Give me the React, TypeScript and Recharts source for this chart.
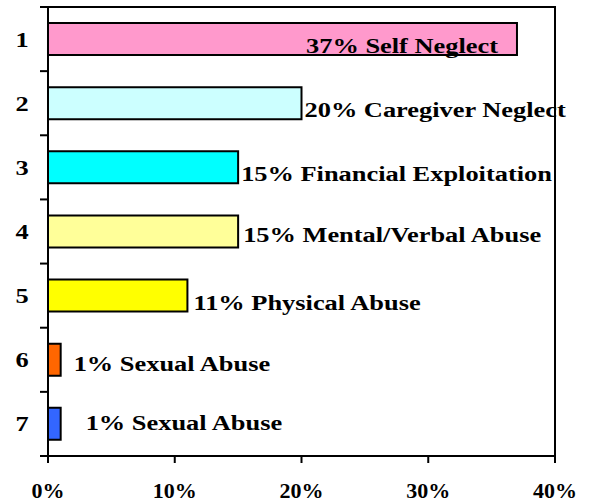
import React from "react";
import { BarChart, Bar, XAxis, YAxis, Cell, LabelList, ReferenceArea } from "recharts";

const ranks = ["1", "2", "3", "4", "5", "6", "7"];
const categories = [
  "Self Neglect",
  "Caregiver Neglect",
  "Financial Exploitation",
  "Mental/Verbal Abuse",
  "Physical Abuse",
  "Sexual Abuse",
  "Sexual Abuse",
];
const percents = [37, 20, 15, 15, 11, 1, 1];
const colors = ["#FF99CC", "#CCFFFF", "#00FFFF", "#FFFF99", "#FFFF00", "#FF6600", "#3366FF"];
const xTicks = [0, 10, 20, 30, 40];

const data = ranks.map((r, i) => ({ rank: r, name: categories[i], value: percents[i] }));

// label styling: anchor, horizontal shift from bar end, baseline shift from bar centre
const labelStyle = [
  { anchor: "end", dx: -19, dy: 13.5 },
  { anchor: "start", dx: 3, dy: 14 },
  { anchor: "start", dx: 3, dy: 14 },
  { anchor: "start", dx: 5, dy: 11 },
  { anchor: "start", dx: 6, dy: 14 },
  { anchor: "start", dx: 13, dy: 11 },
  { anchor: "start", dx: 25, dy: 6 },
];

const FONT = "Liberation Serif, Times New Roman, Times, serif";
const STRETCH = 1.2;
const textStyle: React.CSSProperties = { fontFamily: FONT, fontWeight: 700, fontSize: 22 };

const BarLabel = (props: any) => {
  const { x, y, width, height, index, value } = props;
  const s = labelStyle[index];
  const endX = Number(x) + Number(width);
  const tx = endX + s.dx;
  const ty = Number(y) + Number(height) / 2 + s.dy;
  return (
    <text
      transform={`translate(${tx},${ty}) scale(${STRETCH},1)`}
      x={0}
      y={0}
      textAnchor={s.anchor as any}
      style={textStyle}
      fill="#000"
    >
      {`${value}% ${data[index].name}`}
    </text>
  );
};

const YTick = (props: any) => {
  const { x, y, payload, index } = props;
  const half = payload && typeof payload.offset === "number" && payload.offset > 0 ? payload.offset : 449 / 14;
  const ax = Number(x) + 8;
  return (
    <g>
      <line x1={x} x2={ax} y1={y - half} y2={y - half} stroke="#000" strokeWidth={2} />
      {index === ranks.length - 1 && (
        <line x1={x} x2={ax} y1={y + half} y2={y + half} stroke="#000" strokeWidth={2} />
      )}
      <text
        transform={`translate(${Number(x) - 18},${Number(y) + 7.5}) scale(${STRETCH},1)`}
        x={0}
        y={0}
        textAnchor="middle"
        style={textStyle}
        fill="#000"
      >
        {payload.value}
      </text>
    </g>
  );
};

const XTick = (props: any) => {
  const { x, y, payload } = props;
  return (
    <text x={x} y={Number(y) + 33} textAnchor="middle" style={textStyle} fill="#000">
      {`${payload.value}%`}
    </text>
  );
};

export default function App() {
  return (
    <div style={{ position: "absolute", left: 0, top: 0, background: "#fff" }}>
      <BarChart
        width={594}
        height={502}
        data={data}
        layout="vertical"
        margin={{ top: 7, right: 39, bottom: 0, left: 0 }}
      >
        <XAxis
          type="number"
          domain={[0, 40]}
          ticks={xTicks}
          interval={0}
          height={46}
          tickSize={7}
          tickMargin={2}
          axisLine={{ stroke: "#000", strokeWidth: 2 }}
          tickLine={{ stroke: "#000", strokeWidth: 2 }}
          tick={<XTick />}
        />
        <YAxis
          type="category"
          dataKey="rank"
          width={48}
          tickSize={8}
          tickMargin={0}
          axisLine={{ stroke: "#000", strokeWidth: 2 }}
          tickLine={false}
          tick={<YTick />}
          interval={0}
        />
        <ReferenceArea x1={0} x2={40} fill="none" fillOpacity={0} stroke="#000" strokeWidth={2} ifOverflow="visible" />
        <Bar dataKey="value" barSize={32} stroke="#000" strokeWidth={2} isAnimationActive={false}>
          {data.map((d, i) => (
            <Cell key={i} fill={colors[i]} />
          ))}
          <LabelList dataKey="value" content={<BarLabel />} />
        </Bar>
      </BarChart>
    </div>
  );
}
